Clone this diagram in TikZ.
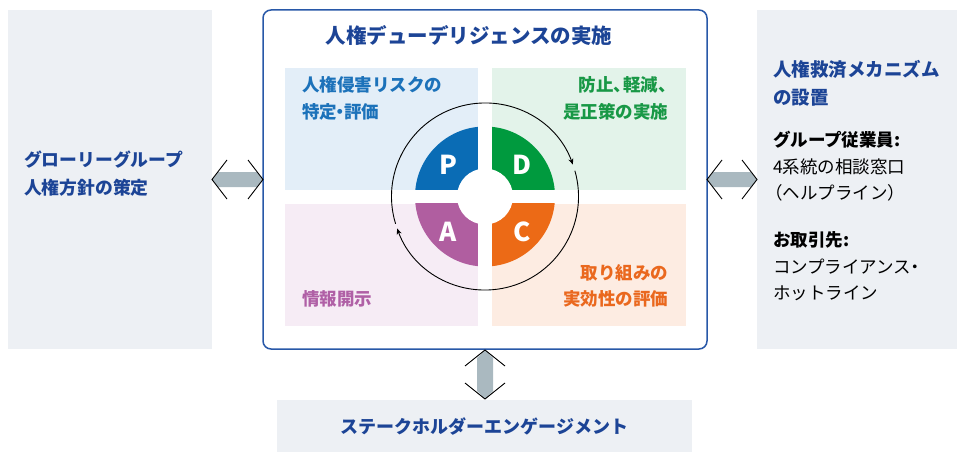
\documentclass[tikz,border=0pt]{standalone}
\usepackage{fontspec}
\setmainfont{Noto Sans CJK JP}
\usetikzlibrary{arrows.meta,calc}
\definecolor{panelbg}{RGB}{237,240,244}
\definecolor{navy}{RGB}{28,68,150}
\definecolor{boxblue}{RGB}{40,88,168}
\definecolor{pblue}{RGB}{10,108,181}
\definecolor{dgreen}{RGB}{0,154,62}
\definecolor{corange}{RGB}{236,106,22}
\definecolor{apurple}{RGB}{176,94,160}
\definecolor{tblue}{RGB}{28,114,186}
\definecolor{tgreen}{RGB}{24,152,70}
\definecolor{torange}{RGB}{234,104,30}
\definecolor{tpurple}{RGB}{176,96,166}
\definecolor{qblue}{RGB}{227,238,248}
\definecolor{qgreen}{RGB}{227,243,234}
\definecolor{qpurple}{RGB}{246,236,245}
\definecolor{qorange}{RGB}{253,236,226}
\definecolor{arrgray}{RGB}{170,185,192}
\begin{document}
\begin{tikzpicture}[x=1pt,y=-1pt,
  panel/.style={fill=panelbg, draw=none, inner sep=0, outer sep=0, anchor=north west},
  quad/.style={draw=none, inner sep=0, outer sep=0, anchor=north west, minimum width=193, minimum height=122},
  txt/.style={inner sep=0, outer sep=0, text height=0.88em, text depth=0.12em},
  hd/.style={txt, font=\fontsize{18.5}{22}\selectfont\bfseries, text=navy, anchor=west},
  qt/.style={txt, font=\fontsize{17.5}{21}\selectfont\bfseries},
  body/.style={txt, font=\fontsize{17.5}{21}\selectfont, text=black, anchor=west},
  bodyb/.style={txt, font=\fontsize{17.5}{21}\selectfont\bfseries, text=black, anchor=west},
  letter/.style={font=\fontsize{26}{30}\selectfont\bfseries, text=white, inner sep=0},
  chev/.style={draw=black, line width=0.9pt, line join=miter},
  ring/.style={draw=black, line width=0.9pt, -{Stealth[length=6pt,width=5pt]}}]
\useasboundingbox (0,0) rectangle (957,452);
% panels
\node[panel, minimum width=204, minimum height=339] (lp) at (8,10) {};
\node[panel, minimum width=200, minimum height=339] (rp) at (757,10) {};
\node[panel, minimum width=415, minimum height=52] (bp) at (277,400) {};
\node[draw=boxblue, line width=1.5pt, rounded corners=8pt, fill=white, inner sep=0, outer sep=0,
  minimum width=444, minimum height=339, anchor=north west] (mb) at (263,10) {};
% quadrants
\node[quad, fill=qblue] (qtl) at (285,68) {};
\node[quad, fill=qgreen, minimum width=194] (qtr) at (492,68) {};
\node[quad, fill=qpurple] (qbl) at (285,204) {};
\node[quad, fill=qorange, minimum width=194] (qbr) at (492,204) {};
% PDCA
\begin{scope}[shift={(485,196.5)}, y=1pt]
  \fill[pblue] (0,0) -- (90:70) arc (90:180:70) -- cycle;
  \fill[dgreen] (0,0) -- (0:70) arc (0:90:70) -- cycle;
  \fill[corange] (0,0) -- (-90:70) arc (-90:0:70) -- cycle;
  \fill[apurple] (0,0) -- (180:70) arc (180:270:70) -- cycle;
  \fill[white] (-7,-72) rectangle (7,72);
  \fill[white] (-72,-6.5) rectangle (72,6.5);
  \fill[white] (0,0) circle (28);
  \draw[ring] (197:93.5) arc (197:20:93.5);
  \draw[ring] (16:93.5) arc (16:-160:93.5);
\end{scope}
\node[letter] (lP) at (448,165) {P};
\node[letter] (lD) at (522,165) {D};
\node[letter] (lA) at (448,232) {A};
\node[letter] (lC) at (522,232) {C};
% title
\node[txt, font=\fontsize{20.5}{24}\selectfont\bfseries, text=navy] (title) at (469,40) {人権デューデリジェンスの実施};
% quadrant texts
\node[qt, text=tblue, anchor=west] (q1a) at (302,88) {人権侵害リスクの};
\node[qt, text=tblue, anchor=west] (q1b) at (302,115) {特定\kern-0.3em・\kern-0.3em評価};
\node[qt, text=tgreen, anchor=east] (q2a) at (668,88) {防止、\kern-0.45em軽減、\kern-0.45em};
\node[qt, text=tgreen, anchor=east] (q2b) at (668,115) {是正策の実施};
\node[qt, text=torange, anchor=east] (q3a) at (668,276) {取り組みの};
\node[qt, text=torange, anchor=east] (q3b) at (668,302) {実効性の評価};
\node[qt, text=tpurple, anchor=west] (q4a) at (302,302) {情報開示};
% left panel
\node[hd, font=\fontsize{17.8}{22}\selectfont\bfseries] (l1) at (24,163) {グローリーグループ};
\node[hd, font=\fontsize{17.8}{22}\selectfont\bfseries] (l2) at (24,191) {人権方針の策定};
% right panel
\node[hd] (r1) at (773,72.5) {人権救済メカニズム};
\node[hd] (r2) at (773,101) {の設置};
\node[bodyb] (r3) at (773,143) {グループ従業員:};
\node[body] (r4) at (773,170) {4系統の相談窓口};
\node[body] (r5) at (773,196) {\kern-0.45em（ヘルプライン）};
\node[bodyb] (r6) at (773,243) {お取引先:};
\node[body] (r7) at (773,270) {コンプライアンス\kern-0.3em・};
\node[body] (r8) at (773,296) {ホットライン};
% bottom
\node[txt, font=\fontsize{18}{22}\selectfont\bfseries, text=navy] (b1) at (484.5,430) {ステークホルダーエンゲージメント};
% left arrow
\coordinate (la1) at (lp.east);
\coordinate (la2) at (mb.west);
\fill[arrgray] (la1) -- ++(6,-7.5) -- ($(la2)+(-6,-7.5)$) -- (la2) -- ++(-6,7.5) -- ($(la1)+(6,7.5)$) -- cycle;
\draw[chev] ($(la1)+(15,-19.5)$) -- (la1) -- ++(15,19.5);
\draw[chev] ($(la2)+(-15,-19.5)$) -- (la2) -- ++(-15,19.5);
% right arrow
\coordinate (ra1) at (mb.east);
\coordinate (ra2) at (rp.west);
\fill[arrgray] (ra1) -- ++(6,-7.5) -- ($(ra2)+(-6,-7.5)$) -- (ra2) -- ++(-6,7.5) -- ($(ra1)+(6,7.5)$) -- cycle;
\draw[chev] ($(ra1)+(15,-19.5)$) -- (ra1) -- ++(15,19.5);
\draw[chev] ($(ra2)+(-15,-19.5)$) -- (ra2) -- ++(-15,19.5);
% vertical arrow
\coordinate (va1) at (485,350);
\coordinate (va2) at (485,399);
\fill[arrgray] (va1) -- ++(8,8) -- ($(va2)+(8,-8)$) -- (va2) -- ++(-8,-8) -- ($(va1)+(-8,8)$) -- cycle;
\draw[chev] ($(va1)+(-20,16)$) -- (va1) -- ++(20,16);
\draw[chev] ($(va2)+(-20,-16)$) -- (va2) -- ++(20,-16);
\end{tikzpicture}
\end{document}
